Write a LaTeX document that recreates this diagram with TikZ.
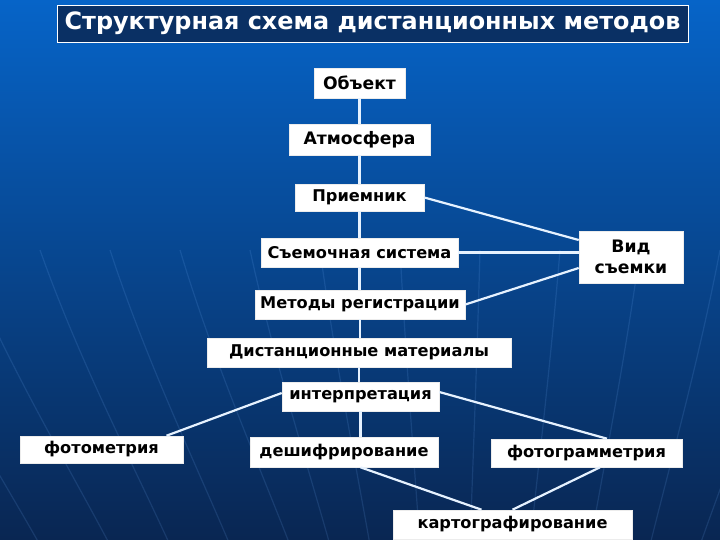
\documentclass[tikz,border=0pt]{standalone}
\usepackage{fontspec}
\setmainfont{DejaVu Sans}
\usetikzlibrary{calc}
\definecolor{bgtop}{RGB}{6,100,200}
\definecolor{bgmid}{RGB}{10,72,150}
\definecolor{bgbot}{RGB}{9,38,82}
\definecolor{titlefill}{RGB}{10,48,100}
\definecolor{linkcol}{RGB}{230,242,255}
\definecolor{streak}{RGB}{120,180,255}
\tikzset{
  box/.style={draw=white!85!gray, line width=0.6pt, fill=white, inner sep=0pt,
    font=\bfseries\fontsize{16.2}{19}\selectfont, text=black, align=center},
  bigbox/.style={box, font=\bfseries\fontsize{17.2}{20.5}\selectfont},
  link/.style={draw=linkcol, line width=2.2pt},
  streakline/.style={draw=streak, line width=1.2pt, opacity=0.14}
}
\begin{document}
\begin{tikzpicture}[x=1pt,y=-1pt]
\useasboundingbox (0,0) rectangle (720,540);
\shade[top color=bgtop, middle color=bgmid, bottom color=bgbot] (0,0) rectangle (720,540);
% faint background streaks
\foreach \xt/\xb in {-120/40, -40/110, 40/170, 110/230, 180/290, 250/330, 320/370, 400/420, 480/470, 560/530, 640/590, 720/650, 800/700, 880/760}{
  \draw[streakline] (\xt,250) .. controls ({\xt*0.7+\xb*0.3},360) and ({\xt*0.3+\xb*0.7},460) .. (\xb,545);
}
% title
\node[draw=white, line width=0.6pt, fill=titlefill, text=white, inner sep=0pt,
  minimum width=631pt, minimum height=37pt,
  font=\bfseries\fontsize{23.9}{28}\selectfont] (title) at (372.5,23.5) {Структурная схема дистанционных методов};
% nodes
\node[bigbox, minimum width=91pt, minimum height=30pt] (obj) at (359.5,83) {Объект};
\node[bigbox, minimum width=141pt, minimum height=31pt] (atm) at (359.5,139.5) {Атмосфера};
\node[box, minimum width=129pt, minimum height=27pt] (pri) at (359.5,197.5) {Приемник};
\node[box, minimum width=197pt, minimum height=29pt] (sem) at (359.5,252.5) {Съемочная система};
\node[bigbox, minimum width=104pt, minimum height=52pt] (vid) at (631,257) {Вид\\съемки};
\node[box, minimum width=210pt, minimum height=29pt] (met) at (360,304.5) {Методы регистрации};
\node[box, minimum width=304pt, minimum height=29pt] (dist) at (359,352.5) {Дистанционные материалы};
\node[box, minimum width=157pt, minimum height=29pt] (int) at (360.5,396.5) {интерпретация};
\node[box, minimum width=163pt, minimum height=27pt] (fot) at (101.5,449.5) {фотометрия};
\node[box, minimum width=188pt, minimum height=30pt] (desh) at (344,452) {дешифрирование};
\node[box, minimum width=191pt, minimum height=28pt] (fgm) at (586.5,453) {фотограмметрия};
\node[box, minimum width=239pt, minimum height=29pt] (kart) at (512.5,524.5) {картографирование};
% vertical chain
\draw[link] (obj.south) -- (obj.south |- atm.north);
\draw[link] (atm.south) -- (atm.south |- pri.north);
\draw[link] (pri.south) -- (pri.south |- sem.north);
\draw[link] (sem.south) -- (sem.south |- met.north);
\draw[link] (met.south) -- (met.south |- dist.north);
\draw[link] (dist.south) -- (dist.south |- int.north);
\draw[link] (int.south) -- (int.south |- desh.north);
% to Вид съемки
\draw[link] (pri.east) -- ([yshift=17pt]vid.west);
\draw[link] (sem.east) -- (sem.east -| vid.west);
\draw[link] (met.east) -- ([yshift=-11pt]vid.west);
% lower branches
\draw[link] ([yshift=3.5pt]int.west) -- ([xshift=65pt]fot.north);
\draw[link] ([yshift=4.5pt]int.east) -- ([xshift=20.5pt]fgm.north);
\draw[link] (int.south |- desh.south) -- ([xshift=-31pt]kart.north);
\draw[link] ([xshift=13.5pt]fgm.south) -- (kart.north);
\end{tikzpicture}
\end{document}
